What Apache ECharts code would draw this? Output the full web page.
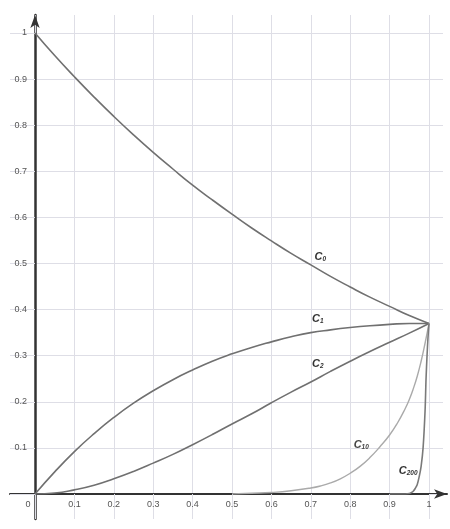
<!DOCTYPE html>
<html>
<head>
<meta charset="utf-8">
<script src="https://cdn.jsdelivr.net/npm/echarts@6/dist/echarts.min.js"></script>
<style>html,body{margin:0;padding:0;background:#fff;}#chart{width:450px;height:529px;}</style>
</head>
<body>
<div id="chart"></div>
<script>
// ---- data ----
var xTickLabels = ['0','0.1','0.2','0.3','0.4','0.5','0.6','0.7','0.8','0.9','1'];
var yTickLabels = ['','0.1','0.2','0.3','0.4','0.5','0.6','0.7','0.8','0.9','1'];

var xsMain = [0,0.05,0.1,0.15,0.2,0.25,0.3,0.35,0.4,0.45,0.5,0.55,0.6,0.65,0.7,0.75,0.8,0.85,0.9,0.95,1];
var c0 = [1,0.951,0.905,0.861,0.819,0.779,0.741,0.705,0.670,0.638,0.607,0.577,0.549,0.522,0.497,0.472,0.449,0.427,0.407,0.387,0.370];
var c1 = [0,0.048,0.092,0.131,0.166,0.197,0.224,0.248,0.269,0.288,0.304,0.318,0.330,0.341,0.350,0.356,0.361,0.365,0.368,0.370,0.370];
var c2 = [0,0.002,0.009,0.019,0.033,0.049,0.067,0.086,0.107,0.129,0.152,0.174,0.198,0.221,0.243,0.266,0.288,0.309,0.329,0.349,0.370];

var xs10 = [0.5,0.55,0.6,0.65,0.7,0.725,0.75,0.775,0.8,0.825,0.85,0.875,0.9,0.92,0.94,0.95,0.96,0.97,0.98,0.99,1];
var c10 = [0,0.0015,0.0033,0.007,0.013,0.0175,0.024,0.033,0.045,0.060,0.079,0.102,0.128,0.154,0.186,0.205,0.228,0.255,0.288,0.327,0.370];

var xs200 = [0.9,0.94,0.95,0.955,0.96,0.965,0.97,0.975,0.98,0.985,0.99,0.9925,0.995,0.9975,1];
var c200 = [0,0,0.001,0.003,0.006,0.012,0.020,0.037,0.060,0.100,0.180,0.250,0.300,0.340,0.370];

function pairs(xs, ys){ return xs.map(function(x,i){ return [x, ys[i]]; }); }

var GRID = '#dedee6';
var AX = '#333';
var FONT = 'Liberation Sans, Arial, sans-serif';

function curveLabel(sub, coord, color){
  return {
    symbol: 'rect', symbolSize: 1, silent: true,
    itemStyle: {color: 'rgba(0,0,0,0)'},
    data: [{coord: coord}],
    label: {
      show: true, position: 'inside',
      formatter: '{c|C}{s|' + sub + '}',
      rich: {
        c: {fontFamily: FONT, fontSize: 11, fontWeight: 'bold', fontStyle: 'italic', color: color},
        s: {fontFamily: FONT, fontSize: 6.5, fontWeight: 'bold', fontStyle: 'italic', color: color, verticalAlign: 'bottom', padding: [5,0,0,0]}
      }
    }
  };
}

var chart = echarts.init(document.getElementById('chart'), null, {renderer: 'canvas'});

chart.setOption({
  animation: false,
  backgroundColor: '#fff',
  grid: [
    {left: 35, right: 21, top: 33, bottom: 35},
    {left: 10, right: 3, top: 15, bottom: 10}
  ],
  xAxis: [
    {type: 'value', gridIndex: 0, min: 0, max: 1, interval: 0.1, position: 'bottom',
     axisLine: {show: false, onZero: false},
     axisTick: {show: true, length: 25, lineStyle: {color: GRID, width: 1}},
     axisLabel: {show: true, margin: 6, fontFamily: FONT, fontSize: 9, color: '#555',
       formatter: function(v){ var t = xTickLabels[Math.round(v*10)]; return v === 0 ? '{z|' + t + '}' : t; },
       rich: {z: {fontFamily: FONT, fontSize: 9, color: '#555', padding: [0,14,0,0]}}
     },
     splitLine: {show: true, lineStyle: {color: GRID, width: 1}}},
    {type: 'value', gridIndex: 0, min: 0, max: 1, interval: 0.1, position: 'top',
     axisLine: {show: false, onZero: false},
     axisTick: {show: true, length: 18, lineStyle: {color: GRID, width: 1}},
     axisLabel: {show: false}, splitLine: {show: false}},
    {type: 'value', gridIndex: 1, min: -0.0635, max: 1.0457,
     axisLine: {show: true, onZero: true, symbol: ['none','arrow'], symbolSize: [7, 13], lineStyle: {color: AX, width: 2}},
     axisTick: {show: false}, axisLabel: {show: false}, splitLine: {show: false}}
  ],
  yAxis: [
    {type: 'value', gridIndex: 0, min: 0, max: 1, interval: 0.1, position: 'left',
     axisLine: {show: false, onZero: false},
     axisTick: {show: true, length: 25, lineStyle: {color: GRID, width: 1}},
     axisLabel: {show: true, margin: 8, fontFamily: FONT, fontSize: 9, color: '#555',
       formatter: function(v){ return yTickLabels[Math.round(v*10)]; }
     },
     splitLine: {show: true, lineStyle: {color: GRID, width: 1}}},
    {type: 'value', gridIndex: 0, min: 0, max: 1, interval: 0.1, position: 'right',
     axisLine: {show: false, onZero: false},
     axisTick: {show: true, length: 14, lineStyle: {color: GRID, width: 1}},
     axisLabel: {show: false}, splitLine: {show: false}},
    {type: 'value', gridIndex: 1, min: -0.0542, max: 1.039,
     axisLine: {show: true, onZero: true, symbol: ['none','arrow'], symbolSize: [7, 13], lineStyle: {color: AX, width: 2.5}},
     axisTick: {show: false}, axisLabel: {show: false}, splitLine: {show: false}}
  ],
  series: [
    {name: 'C0', type: 'line', xAxisIndex: 0, yAxisIndex: 0, data: pairs(xsMain, c0), smooth: true, showSymbol: false,
     lineStyle: {color: '#707070', width: 1.6}, markPoint: curveLabel('0', [0.724, 0.515], '#333')},
    {name: 'C1', type: 'line', xAxisIndex: 0, yAxisIndex: 0, data: pairs(xsMain, c1), smooth: true, showSymbol: false,
     lineStyle: {color: '#707070', width: 1.6}, markPoint: curveLabel('1', [0.718, 0.38], '#333')},
    {name: 'C2', type: 'line', xAxisIndex: 0, yAxisIndex: 0, data: pairs(xsMain, c2), smooth: true, showSymbol: false,
     lineStyle: {color: '#707070', width: 1.6}, markPoint: curveLabel('2', [0.718, 0.282], '#333')},
    {name: 'C10', type: 'line', xAxisIndex: 0, yAxisIndex: 0, data: pairs(xs10, c10), smooth: 0.5, showSymbol: false,
     lineStyle: {color: '#aaaaaa', width: 1.4}, markPoint: curveLabel('10', [0.828, 0.106], '#444')},
    {name: 'C200', type: 'line', xAxisIndex: 0, yAxisIndex: 0, data: pairs(xs200, c200), smooth: 0.3, showSymbol: false,
     lineStyle: {color: '#7a7a7a', width: 1.6}, markPoint: curveLabel('200', [0.947, 0.05], '#333')}
  ]
});
</script>
</body>
</html>
